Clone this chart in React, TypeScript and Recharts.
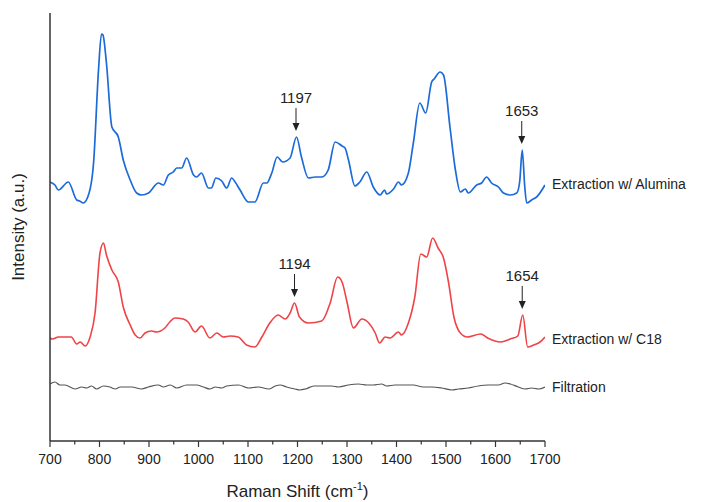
import { Line, LineChart, ReferenceDot, XAxis, YAxis } from "recharts";

// Raman spectra, three preparations, stacked with vertical offsets (a.u.).
const aluminaShift = [700, 710, 717, 737, 754, 760, 767, 779, 788, 798, 804, 807, 814, 825, 838, 848, 862, 875, 885, 899, 919, 929, 939, 949, 956, 966, 976, 990, 996, 1006, 1020, 1026, 1035, 1047, 1057, 1067, 1074, 1084, 1101, 1114, 1131, 1138, 1148, 1159, 1170, 1185, 1198, 1208, 1222, 1236, 1249, 1262, 1276, 1290, 1296, 1303, 1316, 1326, 1340, 1353, 1367, 1376, 1380, 1394, 1404, 1410, 1424, 1434, 1447, 1459, 1471, 1476, 1488, 1495, 1508, 1519, 1529, 1539, 1545, 1562, 1572, 1582, 1592, 1606, 1616, 1630, 1643, 1649, 1654, 1659, 1663, 1673, 1683, 1700];
const aluminaIntensity = [259, 256, 251, 259, 241, 240, 238, 248, 278, 371, 407, 406, 378, 314, 304, 281, 261, 248, 246, 248, 258, 256, 266, 269, 273, 273, 283, 266, 264, 268, 253, 253, 263, 260, 253, 263, 259, 251, 239, 239, 258, 258, 268, 284, 279, 283, 304, 284, 263, 264, 264, 271, 299, 295, 293, 281, 255, 259, 269, 254, 246, 251, 247, 252, 259, 256, 268, 298, 338, 328, 359, 362, 369, 366, 314, 271, 249, 252, 248, 256, 258, 264, 258, 254, 248, 246, 248, 260, 291, 255, 238, 241, 244, 256];

const c18Shift = [700, 705, 717, 743, 754, 761, 771, 781, 791, 801, 808, 814, 825, 838, 848, 862, 872, 882, 892, 905, 915, 932, 942, 952, 969, 979, 993, 1006, 1023, 1037, 1050, 1064, 1080, 1097, 1114, 1128, 1144, 1161, 1175, 1185, 1194, 1204, 1222, 1249, 1266, 1281, 1290, 1300, 1313, 1330, 1344, 1357, 1366, 1377, 1387, 1404, 1410, 1424, 1437, 1449, 1461, 1473, 1484, 1495, 1505, 1516, 1529, 1543, 1570, 1584, 1610, 1630, 1645, 1655, 1665, 1677, 1690, 1700];
const c18Intensity = [103, 102, 104, 104, 97, 99, 95, 104, 128, 188, 198, 186, 171, 159, 134, 116, 106, 103, 108, 110, 109, 113, 119, 123, 122, 119, 109, 115, 103, 108, 104, 105, 104, 96, 94, 104, 118, 126, 122, 128, 138, 124, 118, 120, 138, 164, 159, 139, 113, 122, 118, 108, 98, 104, 103, 109, 106, 118, 144, 187, 184, 203, 193, 183, 159, 124, 108, 104, 107, 103, 99, 102, 105, 126, 94, 96, 99, 104];

const filtrationShift = [700, 710, 720, 730, 751, 764, 774, 784, 794, 808, 821, 832, 842, 865, 885, 899, 919, 929, 943, 956, 976, 996, 1010, 1023, 1034, 1047, 1057, 1081, 1101, 1121, 1142, 1155, 1165, 1178, 1195, 1205, 1216, 1233, 1249, 1269, 1283, 1303, 1323, 1340, 1353, 1370, 1380, 1397, 1417, 1434, 1454, 1471, 1491, 1512, 1525, 1545, 1565, 1585, 1606, 1619, 1630, 1646, 1660, 1673, 1687, 1700];
const filtrationIntensity = [57, 59, 56, 56, 52, 54, 53, 55, 52, 55, 54, 52, 54, 54, 52, 54, 56, 54, 56, 53, 56, 56, 54, 52, 54, 53, 55, 56, 53, 54, 52, 55, 56, 54, 52, 51, 52, 55, 55, 55, 54, 56, 57, 56, 56, 57, 55, 56, 56, 56, 54, 54, 53, 51, 52, 53, 55, 56, 56, 58, 57, 54, 52, 53, 52, 54];

const xTicks = [700, 750, 800, 850, 900, 950, 1000, 1050, 1100, 1150, 1200, 1250, 1300, 1350, 1400, 1450, 1500, 1550, 1600, 1650, 1700];

// annotated peaks
const peakText = ["1197", "1653", "1194", "1654"];
const peakShift = [1197, 1653, 1194, 1654];
const peakIntensity = [304, 291, 138, 126];

const zip = (xs: number[], ys: number[]) => xs.map((x, i) => ({ x, y: ys[i] }));
const alumina = zip(aluminaShift, aluminaIntensity);
const c18 = zip(c18Shift, c18Intensity);
const filtration = zip(filtrationShift, filtrationIntensity);

const INK = "#222";
const FONT = "Arial, 'Liberation Sans', sans-serif";

function XTick(props: any) {
  const { x, y, payload } = props;
  const major = payload.value % 100 === 0;
  return (
    <g>
      <line x1={x} x2={x} y1={y} y2={y + (major ? 6 : 3.5)} stroke="#333" strokeWidth={1.2} />
      {major && (
        <text x={x} y={y + 23} textAnchor="middle" fontSize={14} fill={INK} fontFamily={FONT}>
          {payload.value}
        </text>
      )}
    </g>
  );
}

const peakMark = (text: string) => (props: any) => {
  const { cx, cy } = props;
  return (
    <g>
      <line x1={cx} x2={cx} y1={cy - 29} y2={cy - 13} stroke={INK} strokeWidth={1} />
      <path d={`M${cx - 3.5},${cy - 14} L${cx + 3.5},${cy - 14} L${cx},${cy - 6} Z`} fill={INK} />
      <text x={cx} y={cy - 34} textAnchor="middle" fontSize={15} fill={INK} fontFamily={FONT}>
        {text}
      </text>
    </g>
  );
};

const endLabel = (text: string, last: number, dy = 5) => (props: any) => {
  if (props.index !== last) return <g />;
  return (
    <text x={props.x + 7} y={props.y} dy={dy} fontSize={14} fill={INK} fontFamily={FONT}>
      {text}
    </text>
  );
};

export default function App() {
  return (
    <div style={{ position: "absolute", left: 0, top: 0, background: "#fff" }}>
      <LineChart width={705} height={502} margin={{ top: 13, right: 160, bottom: 31, left: 49 }}>
        <XAxis
          dataKey="x"
          type="number"
          domain={[700, 1700]}
          ticks={xTicks}
          interval={0}
          allowDataOverflow
          height={30}
          tickSize={0}
          tickMargin={0}
          tickLine={false}
          tick={<XTick />}
          axisLine={{ stroke: "#333", strokeWidth: 1.5 }}
          label={{
            content: (p: any) => {
              const vb = p.viewBox;
              return (
                <text x={vb.x + vb.width / 2} y={vb.y + 56} textAnchor="middle" fontSize={17} fill={INK} fontFamily={FONT}>
                  Raman Shift (cm
                  <tspan dy={-7} fontSize={11}>-1</tspan>
                  <tspan dy={7}>)</tspan>
                </text>
              );
            },
          }}
        />
        <YAxis
          type="number"
          domain={[0, 428]}
          width={1}
          tick={false}
          tickLine={false}
          axisLine={{ stroke: "#333", strokeWidth: 1.5 }}
          label={{
            content: (p: any) => {
              const vb = p.viewBox;
              const cx = 24;
              const cy = vb.y + vb.height / 2;
              return (
                <text x={cx} y={cy} transform={`rotate(-90, ${cx}, ${cy})`} textAnchor="middle" fontSize={17} fill={INK} fontFamily={FONT}>
                  Intensity (a.u.)
                </text>
              );
            },
          }}
        />
        <Line
          data={filtration}
          dataKey="y"
          stroke="#555"
          strokeWidth={1.2}
          dot={false}
          type="monotone"
          isAnimationActive={false}
          label={endLabel("Filtration", filtration.length - 1)}
        />
        <Line
          data={c18}
          dataKey="y"
          stroke="#ef4347"
          strokeWidth={1.6}
          dot={false}
          type="monotone"
          isAnimationActive={false}
          label={endLabel("Extraction w/ C18", c18.length - 1, 7)}
        />
        <Line
          data={alumina}
          dataKey="y"
          stroke="#1c6bd9"
          strokeWidth={1.7}
          dot={false}
          type="monotone"
          isAnimationActive={false}
          label={endLabel("Extraction w/ Alumina", alumina.length - 1, 4)}
        />
        {peakText.map((t, i) => (
          <ReferenceDot key={t} x={peakShift[i]} y={peakIntensity[i]} shape={peakMark(t)} />
        ))}
      </LineChart>
    </div>
  );
}
